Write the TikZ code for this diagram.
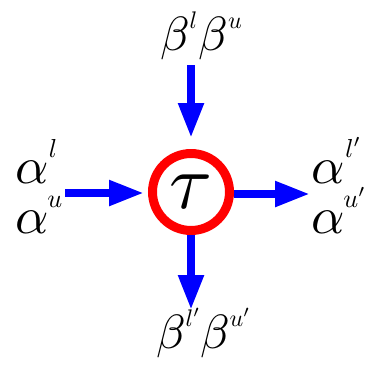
\documentclass[tikz,border=0pt]{standalone}
\usepackage{graphicx}
\usetikzlibrary{arrows.meta}
\newcommand\gal[1]{\scalebox{5.2}{$#1$}}
\newcommand\gbt[1]{\scalebox{4.8}{$#1$}}
\newcommand\supa[1]{\raisebox{26pt}{\scalebox{2.6}{$#1$}}}
\newcommand\supb[1]{\raisebox{22pt}{\scalebox{2.4}{$#1$}}}
\tikzset{
  flow/.style={draw=blue, line width=8pt, -{Triangle[length=35pt,width=24pt]}},
  lbl/.style={anchor=base west, inner sep=0pt, outer sep=0pt},
  op/.style={circle, draw=red, line width=9pt, minimum size=77pt, inner sep=0pt}
}
\begin{document}
\begin{tikzpicture}[x=1pt,y=-1pt]
\useasboundingbox[fill=white] (0,0) rectangle (366,365);
\node[op] (tau) at (191,192) {\scalebox{7.8}{$\tau$}};
\node[lbl] (btop) at (160,50) {\gbt{\beta}\supb{l}\hspace{1pt}\gbt{\beta}\supb{u}};
\node[lbl] (al) at (15,183) {\gal{\alpha}\hspace{0.5pt}\supa{l}};
\node[lbl] (au) at (15,233) {\gal{\alpha}\hspace{-1pt}\supa{u}};
\node[lbl] (alp) at (311,183) {\gal{\alpha}\hspace{1pt}\supa{l'}};
\node[lbl] (aup) at (311,233) {\gal{\alpha}\hspace{-1pt}\supa{u'}};
\node[lbl] (bbot) at (156,348) {\gbt{\beta}\supb{l'}\gbt{\beta}\supb{u'}};
\coordinate (ctop) at (191,65);
\coordinate (cleft) at (65,193);
\coordinate (cright) at (310,194);
\coordinate (cbot) at (191,310);
\draw[flow, shorten >=11pt] (ctop) -- (tau.north);
\draw[flow, shorten >=4pt] (cleft) -- (cleft -| tau.west);
\draw[flow] (tau.east |- cright) -- (cright);
\draw[flow] (tau.south) -- (cbot);
\end{tikzpicture}
\end{document}
